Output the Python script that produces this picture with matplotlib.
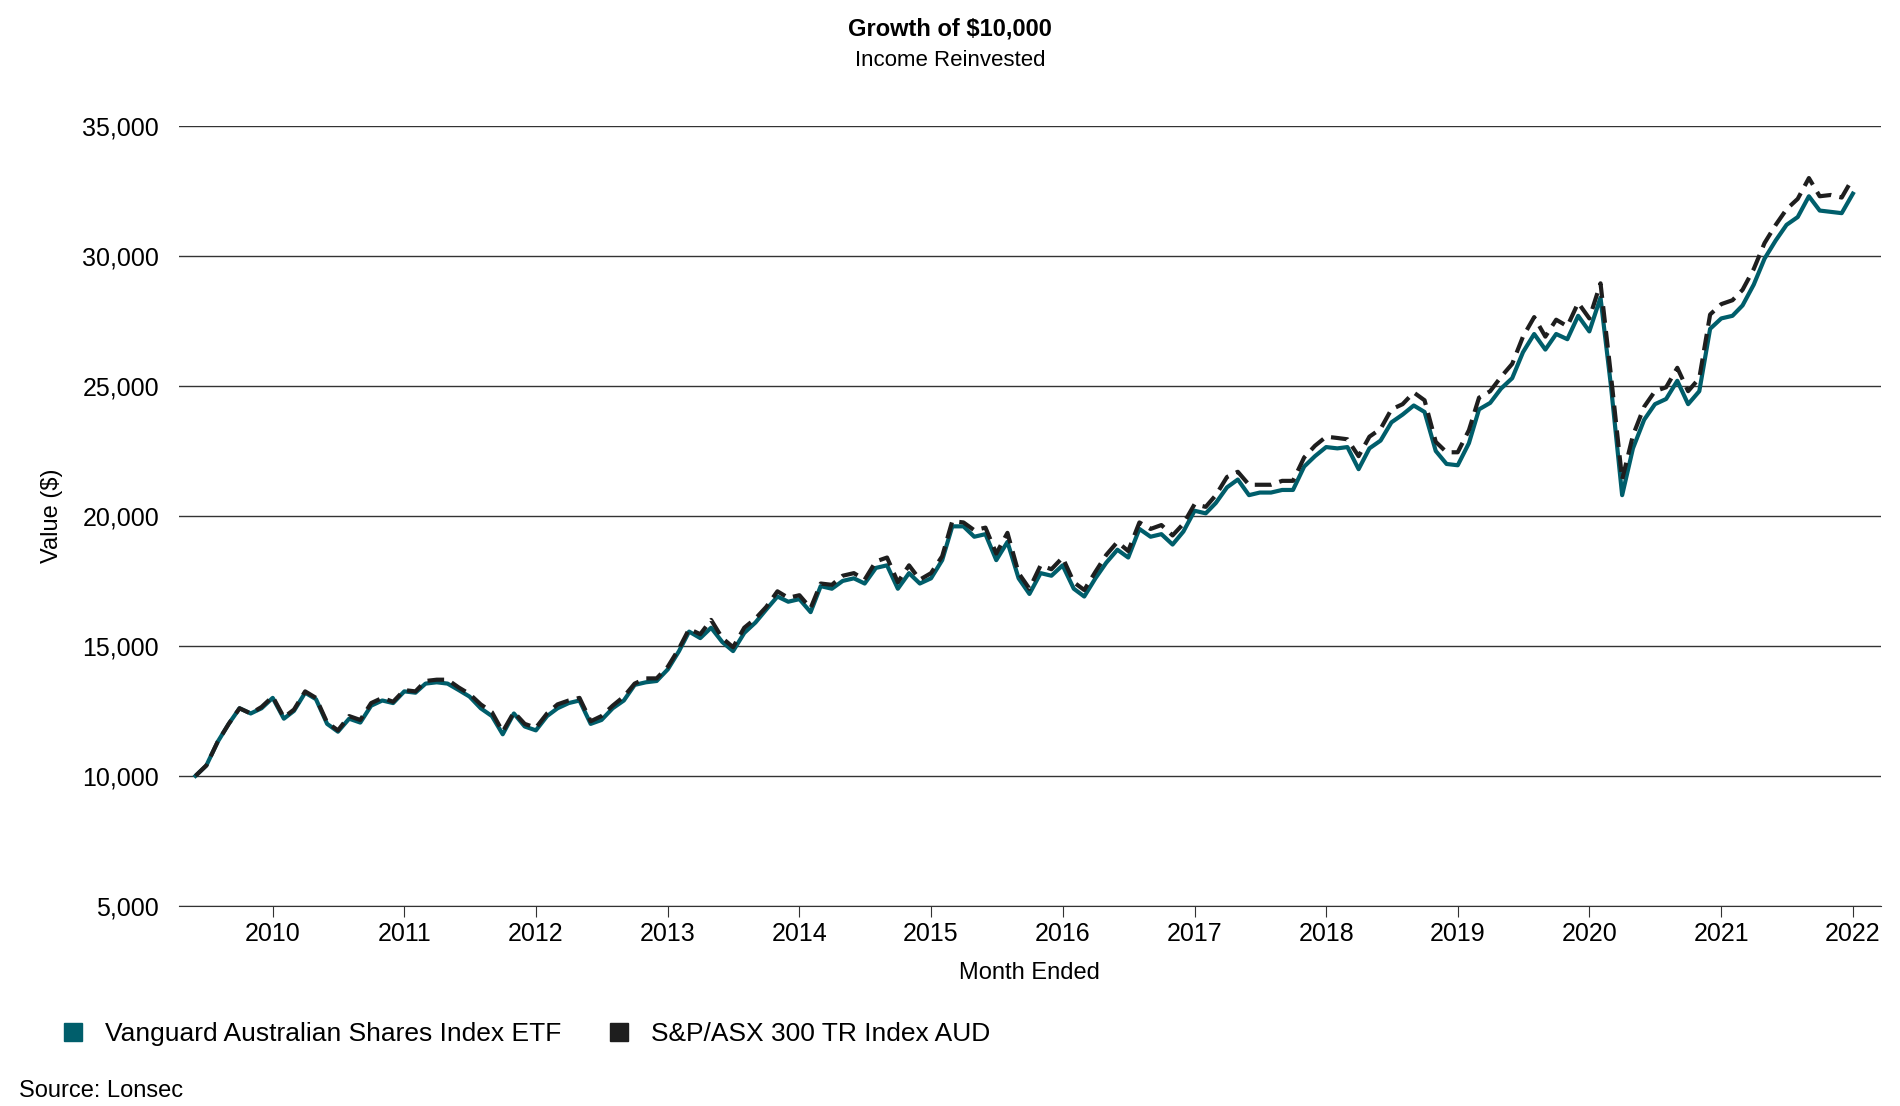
import numpy as np
import pandas as pd
import matplotlib
matplotlib.use("Agg")
import matplotlib.pyplot as plt

plt.rcParams['font.family'] = ['Liberation Sans', 'DejaVu Sans']

# monthly values, Jun 2009 .. Feb 2022
etf = [10000, 10400, 11300, 12000, 12600, 12400, 12600,
       13000, 12200, 12500, 13200, 12950, 12000, 11700, 12200, 12050, 12700, 12900, 12800,
       13250, 13200, 13550, 13600, 13550, 13300, 13050, 12600, 12300, 11600, 12400, 11900,
       11750, 12300, 12600, 12800, 12900, 12000, 12150, 12600, 12900, 13500, 13600, 13650,
       14100, 14800, 15550, 15300, 15700, 15150, 14800, 15500, 15900, 16400, 16900, 16700,
       16800, 16300, 17300, 17200, 17500, 17600, 17400, 18000, 18100, 17200, 17800, 17400,
       17600, 18300, 19600, 19600, 19200, 19300, 18300, 19000, 17600, 17000, 17800, 17700,
       18100, 17200, 16900, 17600, 18200, 18700, 18400, 19500, 19200, 19300, 18900, 19400,
       20200, 20100, 20500, 21100, 21400, 20800, 20900, 20900, 21000, 21000, 21900, 22300,
       22650, 22600, 22650, 21800, 22600, 22900, 23600, 23900, 24250, 24000, 22500, 22000,
       21950, 22800, 24100, 24350, 24900, 25300, 26300, 27000, 26400, 27000, 26800, 27700,
       27100, 28400, 25000, 20800, 22600, 23700, 24300, 24500, 25200, 24300, 24800, 27200, 27600,
       27700, 28100, 28900, 29900, 30600, 31200, 31500, 32300, 31750, 31700, 31650,
       32400]
index = [10000, 10400, 11300, 12000, 12600, 12400, 12650,
         13050, 12250, 12550, 13250, 13000, 12050, 11750, 12300, 12150, 12800, 13000, 12850,
         13300, 13250, 13650, 13700, 13700, 13400, 13150, 12750, 12450, 11700, 12450, 12000,
         11850, 12400, 12750, 12900, 13000, 12100, 12300, 12700, 13050, 13550, 13750, 13750,
         14200, 14900, 15650, 15450, 16000, 15300, 14950, 15700, 16050, 16500, 17100, 16850,
         16950, 16450, 17400, 17350, 17700, 17800, 17550, 18250, 18400, 17450, 18100, 17550,
         17800, 18450, 19800, 19750, 19450, 19550, 18550, 19350, 17800, 17200, 18100, 17950,
         18400, 17450, 17150, 17850, 18500, 19000, 18650, 19750, 19500, 19650, 19250, 19700,
         20450, 20350, 20800, 21500, 21700, 21200, 21200, 21200, 21350, 21350, 22250, 22700,
         23050, 23000, 22950, 22300, 23050, 23350, 24100, 24300, 24750, 24450, 22850, 22450,
         22450, 23300, 24550, 24800, 25350, 25850, 26900, 27650, 26900, 27550, 27300, 28200,
         27600, 28950, 25400, 21400, 23100, 24200, 24800, 24950, 25700, 24800, 25300, 27750, 28150,
         28300, 28700, 29500, 30500, 31200, 31800, 32200, 33000, 32300, 32350, 32250,
         33000]
dates = pd.date_range("2009-06-01", periods=len(etf), freq="MS")

fig, ax = plt.subplots(figsize=(19, 11.06), dpi=100)
fig.subplots_adjust(left=0.094, right=0.99, top=0.886, bottom=0.181)

ax.plot(dates, etf, color="#005e6b", lw=3, label="Vanguard Australian Shares Index ETF", zorder=3)
ax.plot(dates, index, color="#1e1e1e", lw=3, ls=(0, (4, 2)), label="S&P/ASX 300 TR Index AUD", zorder=4)

ax.set_ylim(5000, 35000)
ax.set_yticks(range(5000, 35001, 5000))
ax.yaxis.set_major_formatter(matplotlib.ticker.StrMethodFormatter("{x:,.0f}"))
ax.grid(axis="y", color="#333333", lw=1)
ax.set_axisbelow(True)
for s in ["top", "right", "left"]:
    ax.spines[s].set_visible(False)
ax.spines["bottom"].set_color("#333333")
ax.tick_params(axis="y", length=0, labelsize=18, pad=14)
ax.tick_params(axis="x", labelsize=18, length=8, color="#333333")
years = pd.to_datetime([f"{y}-01-01" for y in range(2010, 2023)])
ax.set_xticks(years)
ax.set_xticklabels([str(y) for y in range(2010, 2023)])
ax.set_xlim(pd.Timestamp("2009-04-15"), pd.Timestamp("2022-03-20"))
ax.set_xlabel("Month Ended", fontsize=17, labelpad=12)
ax.set_ylabel("Value ($)", fontsize=17, labelpad=14)

fig.text(0.5, 0.968, "Growth of $10,000", ha="center", fontsize=17, fontweight="bold")
fig.text(0.5, 0.940, "Income Reinvested", ha="center", fontsize=16)

handles = [plt.Line2D([], [], marker="s", ls="", ms=13, color="#005e6b"),
           plt.Line2D([], [], marker="s", ls="", ms=13, color="#1e1e1e")]
fig.legend(handles, ["Vanguard Australian Shares Index ETF", "S&P/ASX 300 TR Index AUD"],
           loc="lower left", bbox_to_anchor=(0.012, 0.033), ncol=2, frameon=False,
           fontsize=19, handletextpad=0.2, columnspacing=1.2)
fig.text(0.01, 0.008, "Source: Lonsec", fontsize=17)

fig.savefig("out.png", dpi=100)
